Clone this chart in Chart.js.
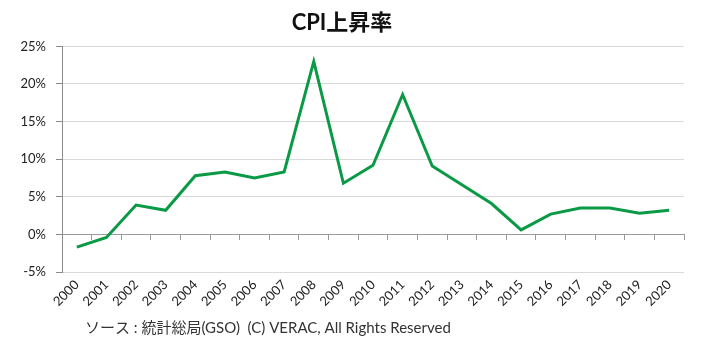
<!DOCTYPE html>
<html>
<head>
<meta charset="utf-8">
<script src="https://cdn.jsdelivr.net/npm/chart.js@4/dist/chart.umd.min.js"></script>
<style>
  html, body { margin: 0; padding: 0; background: #fff; }
  #wrap { width: 701px; height: 343px; }
</style>
</head>
<body>
<div id="wrap"><canvas id="cpiChart" width="701" height="343"></canvas></div>
<script>
const years = ['2000', '2001', '2002', '2003', '2004', '2005', '2006', '2007', '2008', '2009', '2010',
               '2011', '2012', '2013', '2014', '2015', '2016', '2017', '2018', '2019', '2020'];
const cpiRate = [-1.7, -0.4, 3.9, 3.2, 7.8, 8.3, 7.5, 8.3, 23.0, 6.8, 9.2,
                 18.6, 9.1, 6.6, 4.1, 0.6, 2.7, 3.5, 3.5, 2.8, 3.2];
const yTicks = [-5, 0, 5, 10, 15, 20, 25];

const FONT = 'Lato, "Noto Sans CJK JP", sans-serif';
const sourceText = 'ソース : 統計総局(GSO)  (C) VERAC, All Rights Reserved';

// source line under the chart
const sourcePlugin = {
    id: 'sourceNote',
    afterDraw(chart) {
        const c = chart.ctx;
        c.save();
        c.font = '15px ' + FONT;
        c.fillStyle = '#333';
        c.textBaseline = 'middle';
        c.textAlign = 'left';
        c.fillText(sourceText, 85, 328);
        c.restore();
    }
};

const ctx = document.getElementById('cpiChart').getContext('2d');
const chart = new Chart(ctx, {
    type: 'line',
    data: {
        labels: years,
        datasets: [{
            label: 'CPI上昇率',
            data: cpiRate,
            borderColor: '#0a9a46',
            borderWidth: 3,
            pointRadius: 0,
            tension: 0,
            fill: false
        }]
    },
    options: {
        responsive: false,
        animation: false,
        layout: { padding: { left: 0, right: 17, top: 0, bottom: 36 } },
        plugins: {
            legend: { display: false },
            tooltip: { enabled: false },
            title: {
                display: true,
                text: 'CPI上昇率',
                color: '#111',
                font: { family: FONT, size: 22, weight: 'bold', lineHeight: 1.2 },
                padding: { top: 10, bottom: 10 }
            }
        },
        scales: {
            x: {
                type: 'category',
                offset: true,
                border: { display: false },
                grid: { display: false },
                ticks: {
                    autoSkip: false,
                    maxRotation: 45,
                    minRotation: 45,
                    padding: -3,
                    color: '#222',
                    font: { family: FONT, size: 13 }
                },
                afterFit(scale) { scale.height = 35; }
            },
            x2: {
                type: 'category',
                position: { y: 0 },
                offset: true,
                border: { display: true, color: '#9a9a9a', width: 1 },
                grid: {
                    offset: true,
                    drawOnChartArea: false,
                    tickLength: 5,
                    tickColor: '#9a9a9a'
                },
                ticks: { display: false }
            },
            y: {
                min: -5,
                max: 25,
                afterBuildTicks(scale) {
                    scale.ticks = yTicks.map(v => ({ value: v }));
                },
                border: { display: true, color: '#8a8a8a', width: 1 },
                grid: {
                    color: '#d9d9d9',
                    tickColor: '#8a8a8a',
                    tickLength: 6
                },
                ticks: {
                    padding: 10,
                    color: '#222',
                    font: { family: FONT, size: 13 },
                    callback: v => v + '%'
                },
                afterFit(scale) { scale.width = 62; }
            }
        }
    },
    plugins: [sourcePlugin]
});
</script>
</body>
</html>
